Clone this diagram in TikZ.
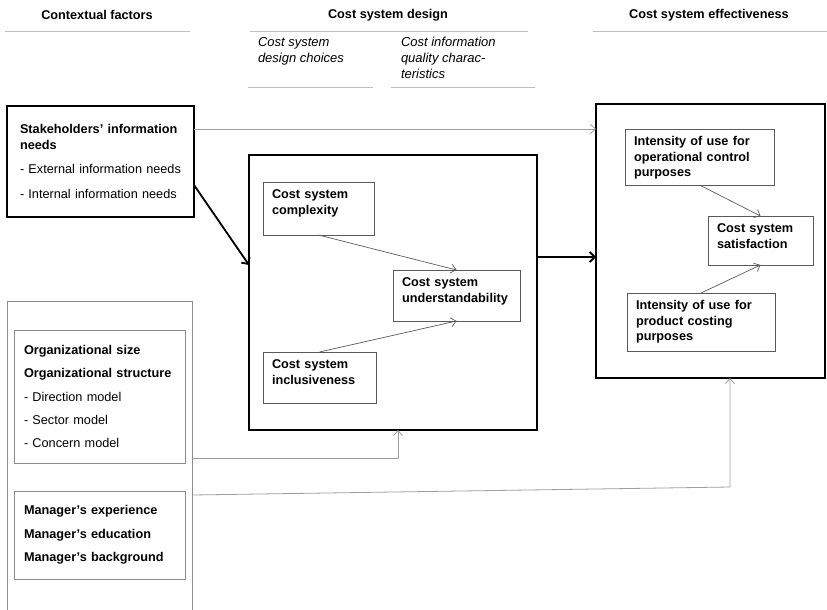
\documentclass[tikz,border=0pt]{standalone}
\usepackage{fontspec}
\setmainfont{Liberation Sans}
\usetikzlibrary{arrows.meta}
\definecolor{rulegray}{gray}{0.75}
\definecolor{linkgray}{gray}{0.62}
\definecolor{framegray}{gray}{0.55}
\definecolor{innergray}{gray}{0.35}
\tikzset{
  every node/.style={font=\fontsize{12.7}{15.5}\selectfont, outer sep=0pt},
  head/.style={font=\fontsize{12.7}{15.5}\selectfont\bfseries},
  subhead/.style={font=\fontsize{13}{16}\selectfont\itshape, anchor=north west, inner sep=0pt, align=left},
  rulex/.style={rulegray, line width=1pt},
  bigbox/.style={draw, line width=2.4pt, anchor=north west, inner sep=0pt},
  sidebox/.style={draw=framegray, line width=0.8pt, anchor=north west, inner xsep=10pt, inner ysep=0pt, align=left},
  inbox/.style={draw=innergray, line width=0.8pt, anchor=north west, inner xsep=9pt, inner ysep=5.5pt,
    text height=11pt, text depth=30pt, font=\fontsize{12.7}{15.5}\selectfont\bfseries, align=left},
  thin arrow/.style={innergray, line width=0.7pt, -{Straight Barb[length=5pt,width=9pt]}},
  gray arrow/.style={linkgray, line width=0.8pt, -{Straight Barb[length=5pt,width=9pt]}},
  thick arrow/.style={line width=1.8pt, -{Straight Barb[length=5pt,width=10pt]}},
}
\begin{document}
\begin{tikzpicture}[x=1pt,y=-1pt]
  \useasboundingbox (0,0) rectangle (827,610);
  % column heads
  \node[head] (hctx) at (97,15) {Contextual factors};
  \node[head] (hdesign) at (388,15) {Cost system design};
  \node[head] (heff) at (709,15) {Cost system effectiveness};
  \draw[rulex] (5,32) -- (190,32);
  \draw[rulex] (250,32) -- (528,32);
  \draw[rulex] (593,32) -- (827,32);
  \node[subhead] (hchoice) at (258,37) {Cost system\\design choices};
  \node[subhead] (hquality) at (401,37) {Cost information\\quality charac-\\teristics};
  \draw[rulex] (248,87) -- (373,87);
  \draw[rulex] (391,87) -- (535,87);

  % contextual factors
  \node[bigbox, inner xsep=13pt, align=left, text width=161pt, minimum width=187pt, minimum height=111pt] (stake) at (7,106)
    {\textbf{Stakeholders’ information}\\\textbf{needs}\\[9pt]- External information needs\\[9pt]- Internal information needs};
  \node[sidebox, minimum width=185pt, minimum height=319pt] (context) at (7,301) {};
  \node[sidebox, font=\fontsize{12.7}{23.3}\selectfont, text width=151pt, minimum height=133pt] (org) at (14,330)
    {\textbf{Organizational size}\\\textbf{Organizational structure}\\- Direction model\\- Sector model\\- Concern model};
  \node[sidebox, font=\fontsize{12.7}{23.5}\selectfont\bfseries, text width=151pt, minimum height=88pt] (mgr) at (14,491)
    {Manager’s experience\\Manager’s education\\Manager’s background};

  % cost system design
  \node[bigbox, minimum width=288pt, minimum height=275pt] (design) at (249,155) {};
  \node[inbox, text width=93pt, text depth=31pt] (cmplx) at (263,182) {Cost system\\complexity};
  \node[inbox, text width=95pt, text depth=29pt] (incl) at (263,352) {Cost system\\inclusiveness};
  \node[inbox, text width=109pt, text depth=29pt] (under) at (393,270) {Cost system\\understandability};

  % cost system effectiveness
  \node[bigbox, minimum width=229pt, minimum height=274pt] (effect) at (596,104) {};
  \node[inbox, text width=131pt, text depth=34pt] (oper) at (625,129) {Intensity of use for\\operational control\\purposes};
  \node[inbox, text width=87pt, text depth=27pt] (satis) at (708,216) {Cost system\\satisfaction};
  \node[inbox, text width=130pt, text depth=36pt] (prod) at (627,293) {Intensity of use for\\product costing\\purposes};

  % links
  \draw[gray arrow] ([yshift=32.5pt]stake.east) -- ([yshift=32.5pt]stake.east -| effect.west);
  \draw[thick arrow] ([yshift=-23.5pt]stake.east) -- ([yshift=27.5pt]design.west);
  \draw[thick arrow] ([yshift=35.5pt]design.east) -- ([yshift=35.5pt]design.east -| effect.west);
  \draw[thin arrow] (cmplx.south) -- (under.north);
  \draw[thin arrow] (incl.north) -- (under.south);
  \draw[thin arrow] (oper.south) -- (satis.north);
  \draw[thin arrow] (prod.north) -- (satis.south);
  \coordinate (bendA) at (398,458);
  \coordinate (bendB) at (730,487);
  \draw[gray arrow] (context.east |- bendA) -- (bendA) -- (bendA |- design.south);
  \draw[gray arrow] ([yshift=-34.5pt]context.east) -- (bendB) -- (bendB |- effect.south);
\end{tikzpicture}
\end{document}
